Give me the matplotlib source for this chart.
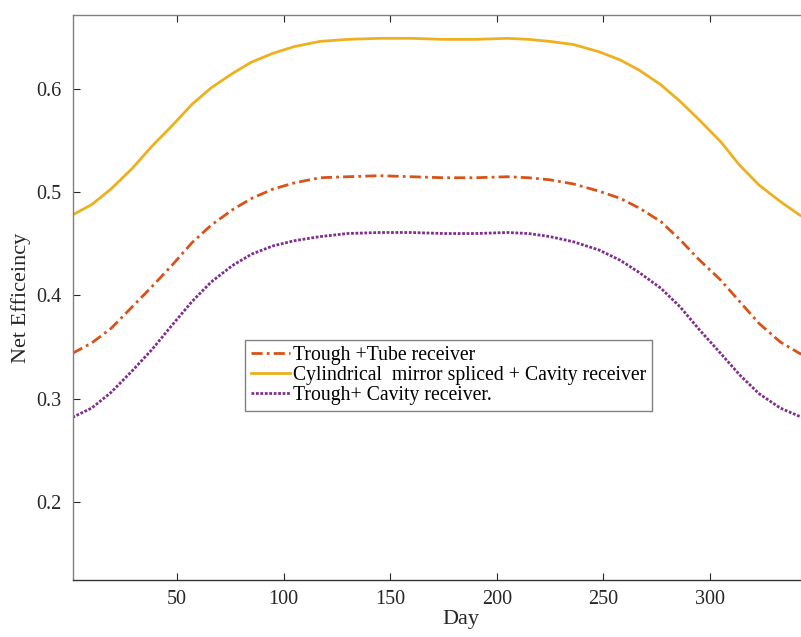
import matplotlib
matplotlib.use("Agg")
import matplotlib.pyplot as plt

plt.rcParams['font.family'] = ['Liberation Serif', 'DejaVu Serif']

# values
day = [1, 10, 19, 29, 38, 48, 57, 66, 76, 85, 95, 105, 117, 130, 145, 160, 175,
       190, 205, 215, 225, 236, 248, 258, 267, 277, 286, 295, 305, 314, 323,
       333, 342, 345]
trough_tube = [0.344, 0.354, 0.368, 0.389, 0.408, 0.430, 0.451, 0.468, 0.483,
               0.494, 0.503, 0.509, 0.514, 0.515, 0.516, 0.515, 0.514, 0.514,
               0.515, 0.514, 0.512, 0.508, 0.501, 0.494, 0.4845, 0.4715, 0.454,
               0.4345, 0.415, 0.394, 0.373, 0.355, 0.344, 0.342]
cyl_cavity = [0.478, 0.488, 0.503, 0.523, 0.544, 0.565, 0.585, 0.601, 0.615,
              0.626, 0.6345, 0.641, 0.646, 0.648, 0.649, 0.649, 0.648, 0.648,
              0.649, 0.648, 0.646, 0.643, 0.636, 0.628, 0.618, 0.604, 0.588,
              0.570, 0.549, 0.526, 0.507, 0.491, 0.478, 0.475]
trough_cavity = [0.282, 0.291, 0.306, 0.327, 0.347, 0.372, 0.394, 0.413, 0.429,
                 0.440, 0.448, 0.453, 0.457, 0.460, 0.461, 0.461, 0.460, 0.460,
                 0.461, 0.460, 0.457, 0.452, 0.444, 0.434, 0.422, 0.407, 0.389,
                 0.367, 0.344, 0.323, 0.305, 0.291, 0.283, 0.281]
labels = ["Trough +Tube receiver",
          "Cylindrical  mirror spliced + Cavity receiver",
          "Trough+ Cavity receiver."]

fig = plt.figure(figsize=(8.01, 6.37), dpi=100)
# axes run past the right edge, the reference is cropped there
ax = fig.add_axes([72.5 / 801, 57 / 637, 776 / 801, 565 / 637])

ax.plot(day, trough_tube, color='#D95319', lw=2, ls=(0, (4, 1.5, 1, 1.5)), label=labels[0])
ax.plot(day, cyl_cavity, color='#EDB120', lw=2, ls='-', label=labels[1])
ax.plot(day, trough_cavity, color='#7E2F8E', lw=2, ls=(0, (1, 0.6)), label=labels[2])

ax.set_xlim(1, 365)
ax.set_ylim(0.1245, 0.6716)
ax.set_xticks([50, 100, 150, 200, 250, 300])
ax.set_yticks([0.2, 0.3, 0.4, 0.5, 0.6])
ax.tick_params(direction='in', length=5, width=0.8, labelsize=14.5,
               colors='#262626', top=True, right=False)
ax.tick_params(axis='y', pad=8)
ax.tick_params(axis='x', pad=7)

ax.spines['right'].set_visible(False)
ax.spines['left'].set_color('#808080')
ax.spines['top'].set_color('#808080')
ax.spines['bottom'].set_color('#333333')
for s in ax.spines.values():
    s.set_linewidth(1)

ax.set_xlabel("Day", fontsize=16, color='#262626', labelpad=1)
ax.set_ylabel("Net Efficeincy", fontsize=16, color='#262626', labelpad=4)

leg = ax.legend(loc='upper left', bbox_to_anchor=(245 / 801, 1 - 340 / 637),
                bbox_transform=fig.transFigure, borderaxespad=0, fontsize=14.2,
                fancybox=False, framealpha=1, edgecolor='#808080',
                handlelength=2.0, handletextpad=0.15, labelspacing=0.06,
                borderpad=0.3)
leg.get_frame().set_linewidth(1)

fig.savefig("out.png", dpi=100)
